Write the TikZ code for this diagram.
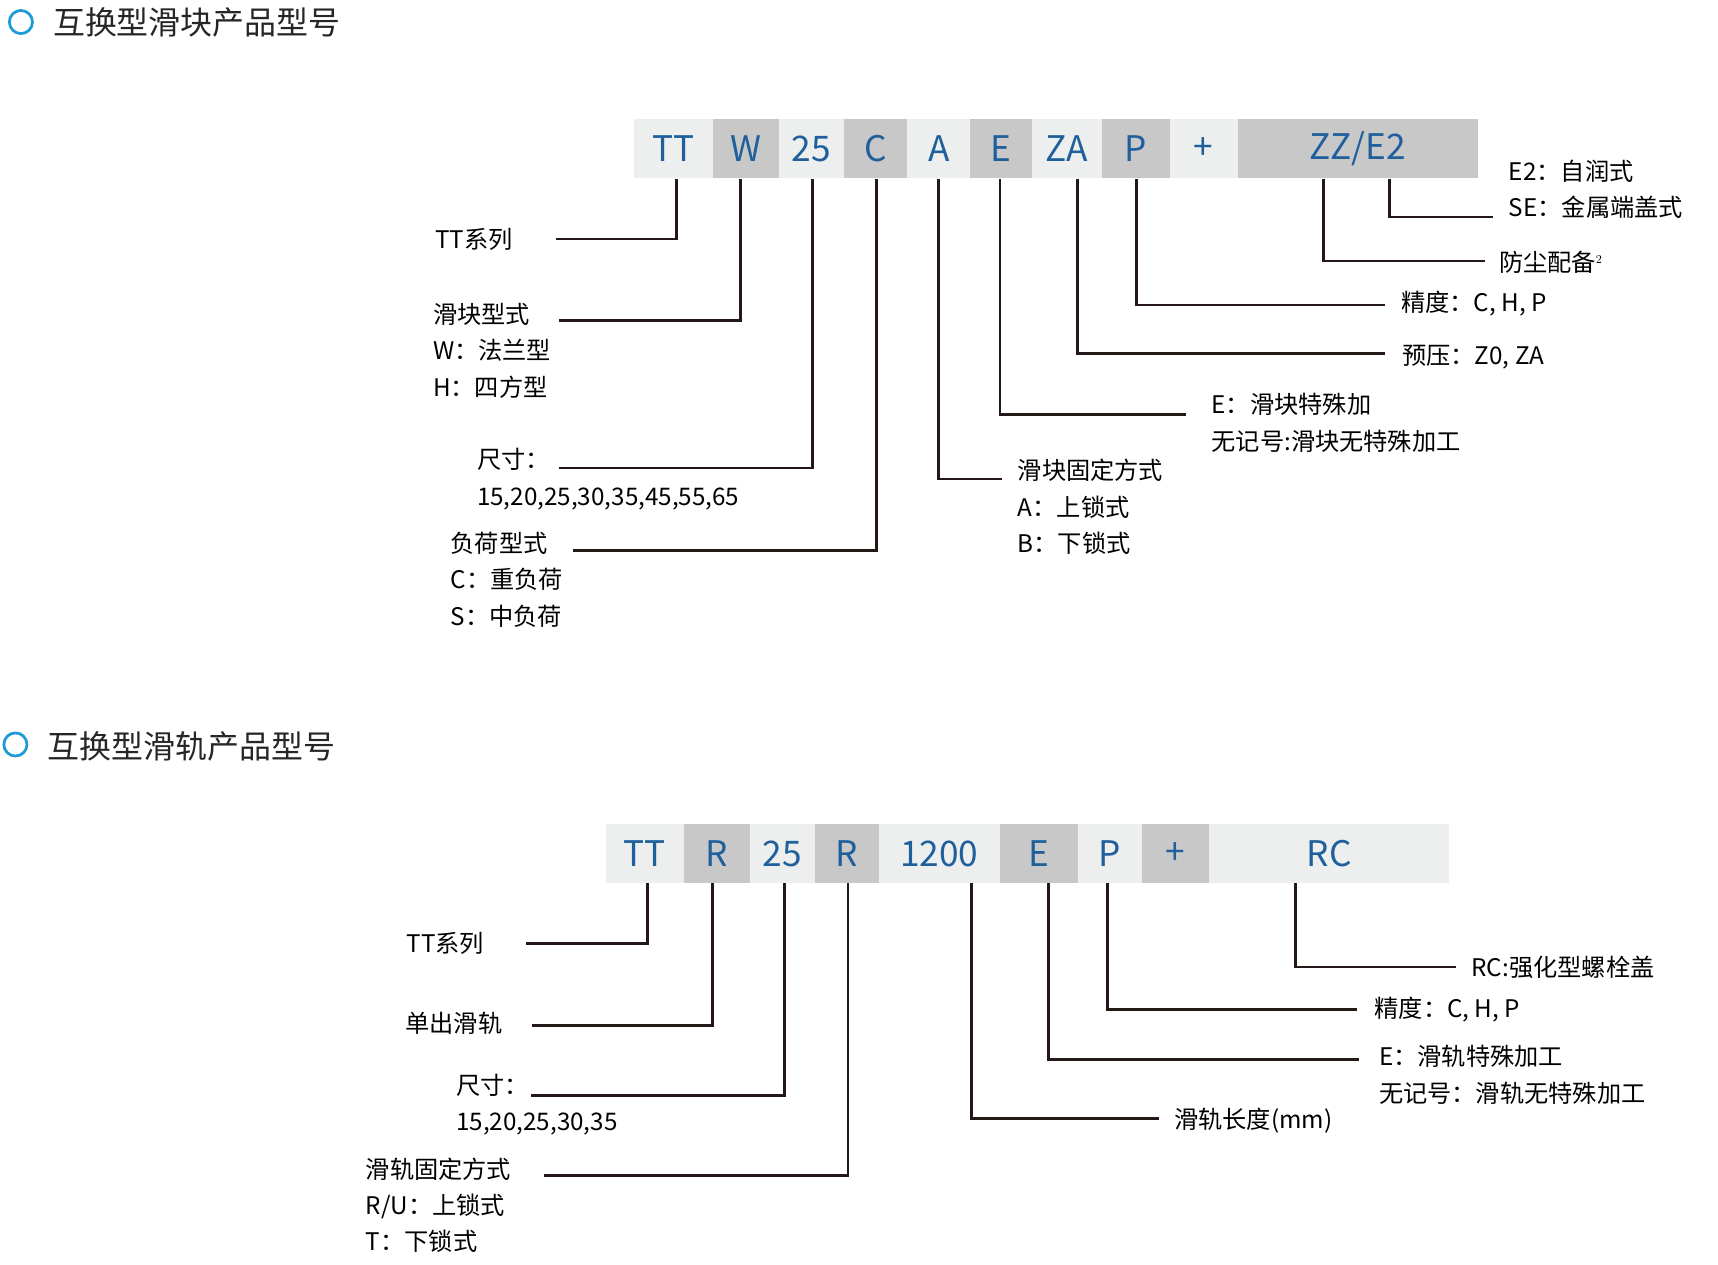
\documentclass[tikz,border=0pt]{standalone}
\usepackage{fontspec}
\setmainfont{Noto Sans CJK SC}
\begin{document}
\begin{tikzpicture}[x=1pt,y=-1pt,
 lt/.style={fill=boxl},gr/.style={fill=boxg},
 bx/.style={inner sep=0pt,text=codeblue,font=\fontsize{32}{34}\selectfont},
 ln/.style={line width=2.6pt,draw=lnc},
 lb/.style={anchor=west,inner sep=0pt,align=left,font=\fontsize{22}{33}\selectfont,text=black},
 hd/.style={anchor=west,inner sep=0pt,font=\fontsize{29}{32}\selectfont,text=black!85}]
\definecolor{boxl}{HTML}{EDEFEF}\definecolor{boxg}{HTML}{C8C8C8}
\definecolor{codeblue}{HTML}{1F5F9B}\definecolor{lnc}{HTML}{231815}
\definecolor{circ}{HTML}{1E9AD8}
\useasboundingbox (0,0) rectangle (1560,1148);
\newcommand\bx[7]{\node[bx,#6,minimum width={(#3-#2)*1pt},minimum height={(#5-#4)*1pt}] (#1) at ({(#2+#3)/2},{(#4+#5)/2}) {#7};}
% headers
\draw[circ,line width=2.5pt] (19,20) circle (10.5);
\node[hd] (h1) at (48,20) {互换型滑块产品型号};
\draw[circ,line width=2.5pt] (14,676) circle (10.5);
\node[hd] (h2) at (43,678) {互换型滑轨产品型号};
% top row
\bx{a1}{576}{647}{108}{162}{lt}{TT}
\bx{a2}{647}{707}{108}{162}{gr}{W}
\bx{a3}{707}{766}{108}{162}{lt}{25}
\bx{a4}{766}{824}{108}{162}{gr}{C}
\bx{a5}{824}{881}{108}{162}{lt}{A}
\bx{a6}{881}{937}{108}{162}{gr}{E}
\bx{a7}{937}{1001}{108}{162}{lt}{ZA}
\bx{a8}{1001}{1062}{108}{162}{gr}{P}
\bx{a9}{1062}{1124}{108}{162}{lt}{+}
\bx{a10}{1124}{1342}{108}{162}{gr}{ZZ/E2}
% top labels
\node[lb] (t1) at (395,217) {TT系列};
\node[lb,anchor=north west] (t2) at (393,275) {滑块型式\\W：法兰型\\H：四方型};
\node[lb,anchor=north west] (t3) at (433,407) {尺寸：\\15,20,25,30,35,45,55,65};
\node[lb,anchor=north west] (t4) at (409,483) {负荷型式\\C：重负荷\\S：中负荷};
\node[lb,anchor=north west] (t5) at (924,417) {滑块固定方式\\A：上锁式\\B：下锁式};
\node[lb,anchor=north west] (t6) at (1100,357) {E：滑块特殊加\\无记号:滑块无特殊加工};
\node[lb] (t7) at (1273,324) {预压：Z0, ZA};
\node[lb] (t8) at (1272,276) {精度：C, H, P};
\node[lb] (t9) at (1361,238) {防尘配备$^{\scriptscriptstyle 2}$};
\node[lb,anchor=north west] (t10) at (1370,145) {E2：自润式\\SE：金属端盖式};
\coordinate (e1) at (505,217); \coordinate (e2) at (508,291);
\coordinate (e3) at (508,425); \coordinate (e4) at (520,500);
\coordinate (e5) at (910,435); \coordinate (e6) at (1077,376);
\coordinate (e7) at (1258,321); \coordinate (e8) at (1258,277);
\coordinate (e9) at (1348,237); \coordinate (e10) at (1356,197);
\draw[ln] (a1.south -| 614,0) |- (e1);
\draw[ln] (a2.south -| 672,0) |- (e2);
\draw[ln] (a3.south -| 738,0) |- (e3);
\draw[ln] (a4.south -| 796,0) |- (e4);
\draw[ln] (a5.south -| 852,0) |- (e5);
\draw[ln] (a6.south -| 908,0) |- (e6);
\draw[ln] (a7.south -| 978,0) |- (e7);
\draw[ln] (a8.south -| 1032,0) |- (e8);
\draw[ln] (a10.south -| 1202,0) |- (e9);
\draw[ln] (a10.south -| 1262,0) |- (e10);
% bottom row
\bx{b1}{550}{621}{748}{802}{lt}{TT}
\bx{b2}{621}{681}{748}{802}{gr}{R}
\bx{b3}{681}{740}{748}{802}{lt}{25}
\bx{b4}{740}{798}{748}{802}{gr}{R}
\bx{b5}{798}{908}{748}{802}{lt}{1200}
\bx{b6}{908}{979}{748}{802}{gr}{E}
\bx{b7}{979}{1037}{748}{802}{lt}{P}
\bx{b8}{1037}{1098}{748}{802}{gr}{+}
\bx{b9}{1098}{1316}{748}{802}{lt}{RC}
\node[lb] (u1) at (369,857) {TT系列};
\node[lb] (u2) at (368,929) {单出滑轨};
\node[lb,anchor=north west] (u3) at (414,975) {尺寸：\\15,20,25,30,35};
\node[lb,anchor=north west] (u4) at (332,1051) {滑轨固定方式\\R/U：上锁式\\T：下锁式};
\node[lb] (u5) at (1066,1018) {滑轨长度(mm)};
\node[lb,anchor=north west] (u6) at (1252,949) {E：滑轨特殊加工\\无记号：滑轨无特殊加工};
\node[lb] (u7) at (1248,917) {精度：C, H, P};
\node[lb] (u8) at (1336,878) {RC:强化型螺栓盖};
\coordinate (f1) at (478,857); \coordinate (f2) at (483,931);
\coordinate (f3) at (482,995); \coordinate (f4) at (494,1067);
\coordinate (f5) at (1052,1016); \coordinate (f6) at (1234,962);
\coordinate (f7) at (1232,917); \coordinate (f8) at (1322,878);
\draw[ln] (b1.south -| 588,0) |- (f1);
\draw[ln] (b2.south -| 647,0) |- (f2);
\draw[ln] (b3.south -| 712,0) |- (f3);
\draw[ln] (b4.south -| 770,0) |- (f4);
\draw[ln] (b5.south -| 882,0) |- (f5);
\draw[ln] (b6.south -| 952,0) |- (f6);
\draw[ln] (b7.south -| 1006,0) |- (f7);
\draw[ln] (b9.south -| 1176,0) |- (f8);
\end{tikzpicture}
\end{document}
